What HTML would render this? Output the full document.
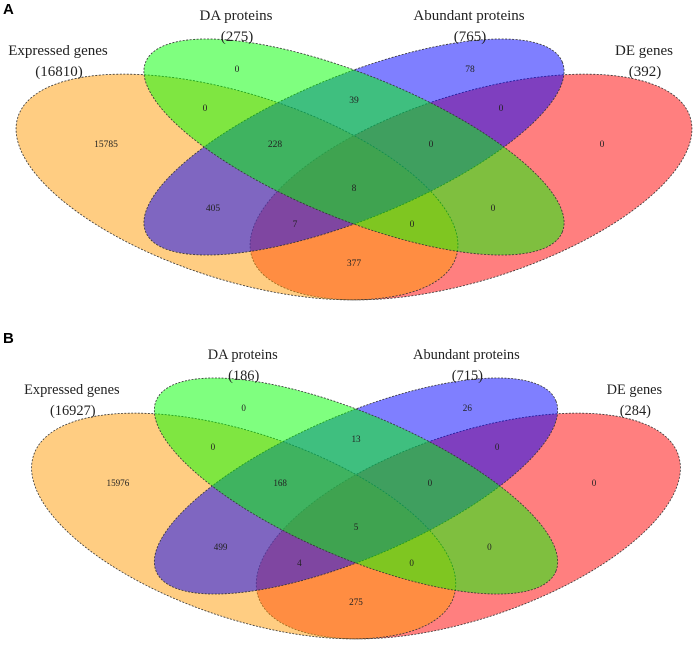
<!DOCTYPE html>
<html><head><meta charset="utf-8"><style>
html,body{margin:0;padding:0;background:#fff;overflow:hidden;}
svg{display:block;}
text{font-family:"Liberation Serif","DejaVu Serif",serif;fill:#222;}
.pl{font-family:"Liberation Sans","DejaVu Sans",sans-serif;font-weight:bold;font-size:15px;fill:#000;}
</style></head><body>
<svg id="chart" width="696" height="649" viewBox="0 0 696 649" xmlns="http://www.w3.org/2000/svg"></svg>
<script>
// ---- data ----
const setNames = ["Expressed genes","DA proteins","Abundant proteins","DE genes"];
const setSizesA = [16810, 275, 765, 392];
const setSizesB = [16927, 186, 715, 284];
// region keys: E=expressed, D=DA, A=abundant, G=DE genes
const regionKeys = ["E","D","A","G","ED","DA","AG","EA","DG","EDA","DAG","EDG","EAG","EG","EDAG"];
const regionCountsA = [15785, 0, 78, 0, 0, 39, 0, 405, 0, 228, 0, 7, 0, 377, 8];
const regionCountsB = [15976, 0, 26, 0, 0, 13, 0, 499, 0, 168, 0, 4, 0, 275, 5];

// ---- layout (not data) ----
const regionPos = {E:[106,144],D:[237,69],A:[470,69],G:[602,144],ED:[205,108],DA:[354,100],AG:[501,108],
  EA:[213,208],DG:[493,208],EDA:[275,144],DAG:[431,144],EDG:[295,224],EAG:[412,224],EG:[354,263],EDAG:[354,188]};
const ellipses = [ // drawn in order red, orange, blue, green
  {set:3,cx:471,cy:187,rx:230,ry:93,rot:-17.7,fill:"#ff0000",name:"de-genes-ellipse"},
  {set:0,cx:237,cy:187,rx:230,ry:93,rot:17.7,fill:"#ff9b05",name:"expressed-genes-ellipse"},
  {set:2,cx:354,cy:147,rx:225,ry:72,rot:-22.2,fill:"#0000ff",name:"abundant-proteins-ellipse"},
  {set:1,cx:354,cy:147,rx:225,ry:72,rot:22.2,fill:"#00ff00",name:"da-proteins-ellipse"}
];
const labelPos = [[58,50],[236,15],[469,15],[644,50]];

const NS="http://www.w3.org/2000/svg";
const svg=document.getElementById('chart');
function mk(tag,attrs,parent){const e=document.createElementNS(NS,tag);for(const k in attrs)e.setAttribute(k,attrs[k]);parent.appendChild(e);return e;}

function panel(letter,sizes,counts,transform,ly){
  const t=mk('text',{x:3,y:ly,class:'pl'},svg);t.textContent=letter;
  
  
  const g=mk('g',{transform:transform},svg);
  
  
  ellipses.forEach(el=>{
    const e=mk('ellipse',{cx:el.cx,cy:el.cy,rx:el.rx,ry:el.ry,transform:`rotate(${el.rot} ${el.cx} ${el.cy})`,
      fill:el.fill,'fill-opacity':0.5,stroke:'#333','stroke-width':0.8,'stroke-dasharray':'2,1.5'},g);
    
    
  });
  setNames.forEach((n,i)=>{
    const [x,y]=labelPos[i];
    const a=mk('text',{x:x,y:y+5,'text-anchor':'middle','font-size':15},g);a.textContent=n;
    
    
    const b=mk('text',{x:x+1,y:y+26,'text-anchor':'middle','font-size':15},g);b.textContent='('+sizes[i]+')';
    
    
  });
  regionKeys.forEach((k,i)=>{
    const [x,y]=regionPos[k];
    const t=mk('text',{x:x,y:y+3,'text-anchor':'middle','font-size':9.5},g);t.textContent=counts[i];
    
    
  });
}
panel('A',setSizesA,regionCountsA,'',14);
panel('B',setSizesB,regionCountsB,'translate(356,339) scale(0.96,1) translate(-354,0)',343);
</script>
</body></html>
